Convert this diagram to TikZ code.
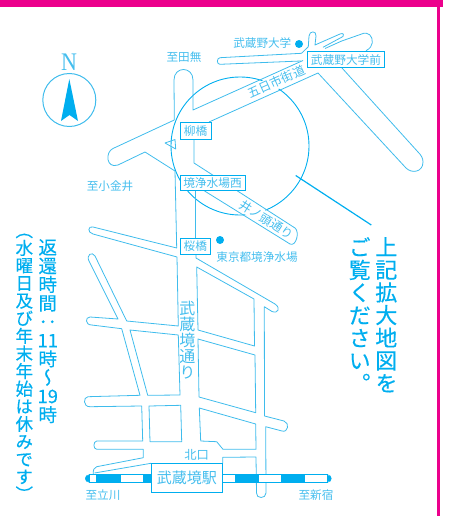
\documentclass[tikz,border=0pt]{standalone}
\usepackage{fontspec}
\setmainfont{Noto Sans CJK JP}
\newfontfamily\vertcjk[RawFeature=+vert]{Noto Sans CJK JP}
\newfontfamily\vertbold[RawFeature=+vert,FakeBold=0.35]{Noto Sans CJK JP}
\newfontfamily\serifn{Liberation Serif}
\lineskiplimit=-100pt
\normallineskiplimit=-100pt
\definecolor{mapcyan}{HTML}{00AEEF}
\definecolor{roadcyan}{HTML}{3FBCEC}
\definecolor{labelcyan}{HTML}{45BEEE}
\definecolor{framepink}{HTML}{EC008C}
\tikzset{
  road/.style={draw=roadcyan,line width=0.8pt,line join=round},
  lbl/.style={text=labelcyan,inner sep=0pt,font=\fontsize{11.6}{12}\selectfont},
  boxlbl/.style={draw=mapcyan,line width=0.8pt,fill=white,text=labelcyan,inner sep=0pt,font=\fontsize{11.7}{12}\selectfont},
  roadlbl/.style={fill=white,text=labelcyan,inner xsep=1pt,inner ysep=0pt,minimum height=14pt,font=\fontsize{12.2}{12}\selectfont},
  railw/.style={fill=white,draw=mapcyan,line width=0.8pt},
  railc/.style={fill=mapcyan,draw=mapcyan,line width=0.4pt},
  spot/.style={circle,fill=mapcyan,inner sep=0pt,minimum size=8pt},
  vtext/.style={text=mapcyan,align=center,inner sep=0pt,anchor=north},
}
\begin{document}
\begin{tikzpicture}[x=1pt,y=-1pt]
\useasboundingbox (0,0) rectangle (457,516);
% frame
\fill[framepink] (0,0) rectangle (443,7);
\fill[framepink] (437,0) rectangle (440.3,516);
% compass
\node[text=labelcyan,inner sep=0pt,yscale=1.15,font=\serifn\fontsize{22}{22}\selectfont] (north) at (69,62) {N};
\node[circle,draw=roadcyan,line width=1pt,minimum size=53pt,inner sep=0pt] (compass) at (69.3,100) {};
\fill[mapcyan] (69.3,79) -- (61,121) -- (69.5,115) -- (78,121) -- cycle;
% large circle and leader
\node[circle,draw=mapcyan,line width=0.9pt,minimum size=138pt,inner sep=0pt] (zoomcircle) at (240,146) {};
\coordinate (leadA) at (295.7,175.5);
\coordinate (leadB) at (371.3,225);
\draw[mapcyan,line width=1.2pt] (leadA) -- (leadB);
% labels on roads that mask the circle
\node[roadlbl,rotate=24.5] (itsukaichi) at (276.5,82) {五日市街道};
\node[roadlbl,rotate=-32] (inokashira) at (266.5,219.5) {井ノ頭通り};
% roads north
\draw[road] (174.3,120) -- (174,80) .. controls (174,66) and (193,66) .. (193,80) -- (193,110) -- (303,60.5);
\draw[road] (209,122) -- (318,73) -- (406,168) .. controls (412,174) and (423,172) .. (423,162) .. controls (423,158) and (421,155) .. (418,152) -- (342,68);
\draw[road] (174.3,120) -- (113,148.5) .. controls (105,152) and (106,169) .. (118,165) -- (145,152) -- (175,171);
\draw[road] (165,143) -- (175,139.5) -- (175.7,149) -- cycle;
\draw[road] (301.5,53.3) -- (220,57.7) .. controls (216.5,58) and (216.5,64.5) .. (220,64.3) -- (301,61);
\draw[road] (301.5,53.3) -- (308.3,46.7) -- (309,36) .. controls (309.5,30.5) and (316.5,30.5) .. (316,36) -- (315,45) -- (340,34) .. controls (343,32.5) and (345,35) .. (343,36.5) -- (323,47.3);
\draw[road] (325,48.5) -- (341.7,41) -- (361.7,34) .. controls (368,31) and (373,36) .. (372.3,42.7) .. controls (372,46) and (370,48.5) .. (366,50.7);
% roads inside circle
\draw[road] (194,140) -- (194,163) -- (295,228) .. controls (300,232) and (296,247) .. (290,244) -- (203,190);
\draw[road] (195,190) -- (195,238);
% main avenue, left side
\draw[road] (175,171) -- (176.7,248) -- (93,227) .. controls (88,225.5) and (87,232.5) .. (93,234) -- (177,257) -- (178.3,326) -- (126.7,321) -- (95,256) .. controls (92,251) and (86,255) .. (89,261) -- (118,319) -- (90,317) .. controls (85,317) and (85,325) .. (91.7,325) -- (121.7,328.7) -- (140,395.3) -- (88,396.7) .. controls (83,397) and (83,407) .. (90,406.7) -- (141.7,406) -- (142.7,441) -- (96.7,441) .. controls (93,441.5) and (93,449) .. (96.7,449.3) -- (143.3,449.3) -- (143.3,457.7) -- (96.7,466.7) .. controls (94,467.5) and (93,470) .. (93.3,474);
\draw[road] (94.5,473) -- (151,463.3);
\draw[road] (130,330) -- (178.3,335) -- (180,395) -- (147.7,395.3) -- cycle;
\draw[road] (149,406) -- (180.7,405.3) -- (181.7,441.7) -- (150,441.7) -- cycle;
% main avenue, right side
\draw[road] (196,255) -- (196,258) -- (275,304) .. controls (281,308) and (278,314) .. (272,311.5) -- (264.3,306.7) -- (264.5,416) -- (284,421) .. controls (290,423) and (288,433) .. (282,431) -- (265.7,426.7) -- (266,493) .. controls (266,499) and (256,499) .. (256.5,493) -- (256,457) -- (222.7,457.3) -- (222.7,463.3);
\draw[road] (196.7,267) -- (254,299) -- (254.5,346) -- (198,330) -- cycle;
\draw[road] (198,339) -- (255,355) -- (255.7,412.7) -- (199,397) -- cycle;
\draw[road] (199.3,408) -- (255.7,424) -- (256,449.3) -- (223,449.3) -- (216.7,441.7) -- (200.7,441) -- cycle;
% railway
\fill[railc] (89.3,474.6) .. controls (84,474.6) and (84,482.4) .. (89.3,482.4) -- cycle;
\fill[railw] (89.3,474.6) rectangle (96.7,482.4);
\fill[railc] (96.7,474.6) rectangle (120,482.4);
\fill[railw] (120,474.6) rectangle (143.3,482.4);
\fill[railc] (143.3,474.6) rectangle (151,482.4);
\fill[railw] (222.7,474.6) rectangle (235,482.4);
\fill[railc] (235,474.6) rectangle (258,482.4);
\fill[railw] (258,474.6) rectangle (281.3,482.4);
\fill[railc] (281.3,474.6) rectangle (304.7,482.4);
\fill[railw] (304.7,474.6) rectangle (327.3,482.4);
\fill[railc] (327.3,474.6) .. controls (332.5,474.6) and (332.5,482.4) .. (327.3,482.4) -- cycle;
% boxes
\node[boxlbl,minimum width=77.4pt,minimum height=16pt] (musashinomae) at (346,59.7) {武蔵野大学前};
\node[boxlbl,minimum width=31pt,minimum height=16.6pt] (yanagi) at (195.5,131) {柳橋};
\node[boxlbl,minimum width=65pt,minimum height=15.7pt] (josuiw) at (212.5,182.8) {境浄水場西};
\node[boxlbl,minimum width=30.7pt,minimum height=16pt] (sakura) at (195.3,246.3) {桜橋};
\node[draw=mapcyan,line width=0.8pt,fill=white,text=labelcyan,inner sep=0pt,minimum width=71.7pt,minimum height=29.4pt,font=\fontsize{15}{15}\selectfont] (station) at (186.8,478) {武蔵境駅};
% dots
\node[spot] (dotuniv) at (299,44) {};
\node[spot] (dotwater) at (220,240) {};
% labels
\node[lbl] (tanashi) at (184,57) {至田無};
\node[lbl] (koganei) at (110,186) {至小金井};
\node[lbl] (univ) at (262.3,43.5) {武蔵野大学};
\node[lbl] (water) at (257,256.7) {東京都境浄水場};
\node[lbl,font=\fontsize{12.3}{12}\selectfont] (kita) at (196.7,455) {北口};
\node[lbl] (tachi) at (103,495) {至立川};
\node[lbl] (shinjuku) at (316,495) {至新宿};
% vertical labels
\node[vtext,text=labelcyan,font=\vertcjk\fontsize{16}{16}\selectfont] (avenue) at (187.3,301) {武\\蔵\\境\\通\\り};
\node[vtext,font=\vertbold\fontsize{17.5}{17.6}\selectfont] (note) at (24.3,233.5) {（\\水\\曜\\日\\及\\び\\年\\末\\年\\始\\は\\休\\み\\で\\す\\）};
\node[vtext,font=\vertbold\fontsize{18.5}{18.6}\selectfont] (hours) at (47.7,239) {返\\還\\時\\間\\：\\11\\時\\〜\\19\\時};
\node[vtext,font=\vertbold\fontsize{22}{22.7}\selectfont] (see1) at (386.3,237) {上\\記\\拡\\大\\地\\図\\を};
\node[vtext,font=\vertbold\fontsize{22}{22.7}\selectfont] (see2) at (359.7,237) {ご\\覧\\く\\だ\\さ\\い\\。};
\end{tikzpicture}
\end{document}
